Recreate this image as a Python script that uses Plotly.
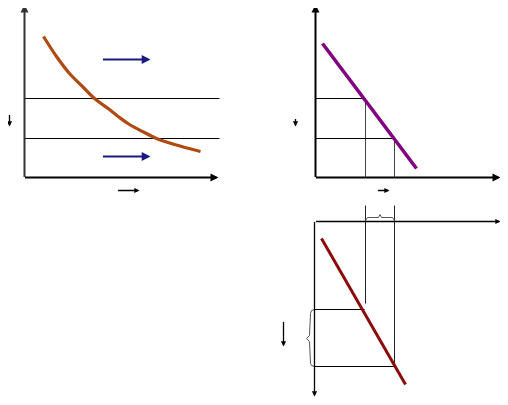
import plotly.graph_objects as go

# ---- data (diagram coordinates) ----
# Panel 1: demand-like convex curve
curve_x = [44, 57, 70, 83, 95, 110, 120, 130, 145, 157, 175, 201]
curve_y = [37, 57, 74, 87, 99, 110, 118, 125, 133, 139, 145, 152]
p1_levels = [99, 139]
p1_level_x = [25, 220]

# Panel 2: straight downward line
p2_line_x = [323, 417]
p2_line_y = [44, 169]
p2_h_x_end = [366, 395]
p2_levels = [99, 139]

# Panel 3: inverted quadrant
p3_line_x = [322, 406]
p3_line_y = [239, 385]
p3_v_x = [366, 395]
p3_v_y_end = [304, 367]
p3_h_y = [310, 367]
p3_h_x_end = [365, 395]

# Arrows: (tail_x, tail_y, head_x, head_y, color, width)
axis_arrows = [
    (25, 179, 25, 5, "#333333", 2),
    (24, 178, 219, 178, "black", 2),
    (316, 179, 316, 5, "black", 2),
    (315, 178, 501, 178, "black", 2),
    (315, 222, 501, 222, "black", 1.3),
    (315, 221, 315, 397, "black", 1.3),
]
shift_arrows = [
    (102, 60, 151, 60, "#1a1a80", 2.2),
    (102, 157, 151, 157, "#1a1a80", 2.2),
    (10, 114, 10, 127, "black", 1.3),
    (117, 191, 140, 191, "black", 1.3),
    (296, 118, 296, 127, "black", 1.3),
    (377, 191, 390, 191, "black", 1.3),
    (284, 321, 284, 347, "black", 1.3),
]

fig = go.Figure()

def seg(xs, ys, color="black", width=1, shape="linear"):
    fig.add_trace(go.Scatter(x=xs, y=ys, mode="lines", hoverinfo="skip",
                             line=dict(color=color, width=width, shape=shape),
                             showlegend=False))

# Panel 1
for lv in p1_levels:
    seg(p1_level_x, [lv, lv], "black", 1)
seg(curve_x, curve_y, "#B04A12", 3.2, "spline")

# Panel 2
for lv, xe in zip(p2_levels, p2_h_x_end):
    seg([316, xe], [lv, lv], "black", 1)
    seg([xe, xe], [lv, 178], "#444444", 1)
seg(p2_line_x, p2_line_y, "#800080", 3.5)

# Panel 3
for xv, ye in zip(p3_v_x, p3_v_y_end):
    seg([xv, xv], [206, ye], "#222222", 1)
for yv, xe in zip(p3_h_y, p3_h_x_end):
    seg([315, xe], [yv, yv], "black", 1)
seg(p3_line_x, p3_line_y, "#8B0A0A", 3)

# braces
seg([366, 368, 379, 380.5, 382, 393, 395], [221, 218, 218, 215, 218, 218, 221], "#555555", 1)
seg([315, 312, 311, 310, 307, 310, 311, 312, 315],
    [310, 311, 314, 336, 339, 342, 364, 366, 367], "#555555", 1)

for tx, ty, hx, hy, col, w in axis_arrows + shift_arrows:
    fig.add_annotation(x=hx, y=hy, ax=tx, ay=ty, xref="x", yref="y",
                       axref="x", ayref="y", text="", showarrow=True,
                       arrowhead=2, arrowsize=0.8, arrowwidth=w, arrowcolor=col)

# the page body has an 8px margin; the figure covers window pixels 8..508 x 8..405
# (half-pixel offset keeps 1px lines crisp)
fig.update_layout(
    width=500, height=397, margin=dict(l=0, r=0, t=0, b=0),
    paper_bgcolor="white", plot_bgcolor="white",
    xaxis=dict(range=[8.5, 508.5], visible=False, fixedrange=True),
    yaxis=dict(range=[405.5, 8.5], visible=False, fixedrange=True),
)
fig.write_html("out.html")
